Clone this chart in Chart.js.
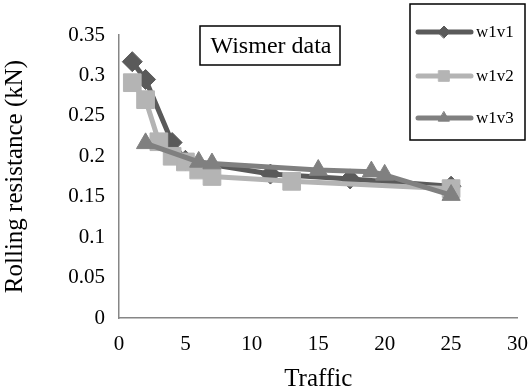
<!DOCTYPE html>
<html><head><meta charset="utf-8">
<script src="https://cdn.jsdelivr.net/npm/chart.js@4/dist/chart.umd.min.js"></script>
<style>html,body{margin:0;padding:0;background:#fff}#wrap{width:531px;height:390px}</style>
</head><body><div id="wrap"><canvas id="c" width="531" height="390"></canvas></div>
<script>
const seriesNames = ['w1v1', 'w1v2', 'w1v3'];
const w1v1X = [1, 2, 4, 5, 11.4, 17.4, 25];
const w1v1Y = [0.317, 0.295, 0.217, 0.195, 0.178, 0.172, 0.163];
const w1v2X = [1, 2, 3, 4, 5, 6, 7, 13, 25];
const w1v2Y = [0.291, 0.27, 0.218, 0.2, 0.193, 0.183, 0.175, 0.169, 0.16];
const w1v3X = [2, 6, 7, 15, 19, 20, 25];
const w1v3Y = [0.216, 0.193, 0.191, 0.183, 0.181, 0.177, 0.152];
const xTickLabels = ['0', '5', '10', '15', '20', '25', '30'];
const yTickLabels = ['0', '0.05', '0.1', '0.15', '0.2', '0.25', '0.3', '0.35'];
const annotationText = 'Wismer data';
const xTitle = 'Traffic';
const yTitle = 'Rolling resistance (kN)';

const pts = (xs, ys) => xs.map((x, i) => ({x: x, y: ys[i]}));
const FONT = '"Liberation Serif", "Times New Roman", serif';

const boxesPlugin = {
  id: 'boxes',
  afterDraw(chart) {
    const ctx = chart.ctx;
    ctx.save();
    // annotation box
    ctx.font = '24px ' + FONT;
    ctx.fillStyle = '#fff';
    ctx.strokeStyle = '#000';
    ctx.lineWidth = 1.5;
    ctx.fillRect(200, 26, 140, 39);
    ctx.strokeRect(200, 26, 140, 39);
    ctx.fillStyle = '#000';
    ctx.textBaseline = 'middle';
    ctx.textAlign = 'center';
    ctx.fillText(annotationText, 271, 47);
    // legend box
    ctx.fillStyle = '#fff';
    ctx.fillRect(410, 4, 115, 136);
    ctx.strokeRect(410, 4, 115, 136);
    const rows = [32, 76, 118];
    chart.data.datasets.forEach((ds, i) => {
      const y = rows[i];
      ctx.strokeStyle = ds.borderColor;
      ctx.lineWidth = 5;
      ctx.lineCap = 'round';
      ctx.beginPath(); ctx.moveTo(418, y); ctx.lineTo(471, y); ctx.stroke();
      ctx.fillStyle = ds.borderColor;
      ctx.strokeStyle = ds.borderColor;
      ctx.lineWidth = 1;
      Chart.helpers.drawPoint(ctx, {pointStyle: ds.pointStyle, rotation: 0, borderWidth: 1, radius: ds.pointRadius * 0.6}, 444, y);
      ctx.fillStyle = '#000';
      ctx.font = '17px ' + FONT;
      ctx.textAlign = 'left';
      ctx.fillText(ds.label, 476, y + 1);
    });
    ctx.restore();
  }
};

new Chart(document.getElementById('c'), {
  type: 'scatter',
  data: {
    datasets: [
      {label: seriesNames[0], data: pts(w1v1X, w1v1Y), showLine: true, borderColor: '#5a5a5a', backgroundColor: '#5a5a5a', borderWidth: 5, pointStyle: 'rectRot', pointRadius: 10, pointBorderWidth: 1, order: 3},
      {label: seriesNames[1], data: pts(w1v2X, w1v2Y), showLine: true, borderColor: '#b4b4b4', backgroundColor: '#b4b4b4', borderWidth: 5, pointStyle: 'rect', pointRadius: 12.5, pointBorderWidth: 1, order: 2},
      {label: seriesNames[2], data: pts(w1v3X, w1v3Y), showLine: true, borderColor: '#808080', backgroundColor: '#808080', borderWidth: 5, pointStyle: 'triangle', pointRadius: 10.5, pointBorderWidth: 1, order: 1}
    ]
  },
  options: {
    responsive: false,
    animation: false,
    layout: {padding: {top: 35, right: 13, left: 0, bottom: 0}},
    plugins: {legend: {display: false}, tooltip: {enabled: false}},
    scales: {
      x: {
        type: 'linear', min: 0, max: 30,
        grid: {display: false, drawTicks: true, tickLength: 5, tickColor: '#868686'},
        border: {color: '#868686', width: 1.5},
        ticks: {stepSize: 5, color: '#000', font: {family: FONT, size: 21}, padding: 9,
          callback: (v, i) => xTickLabels[i]},
        title: {display: true, text: xTitle, color: '#000', font: {family: FONT, size: 25}, padding: {top: 6, bottom: -4}},
        afterFit: s => { s.height = 72; s.paddingLeft = 0; s.paddingRight = 0; }
      },
      y: {
        type: 'linear', min: 0, max: 0.35,
        grid: {display: false, drawTicks: true, tickLength: 5, tickColor: '#868686'},
        border: {color: '#868686', width: 1.5},
        ticks: {stepSize: 0.05, color: '#000', font: {family: FONT, size: 21}, padding: 9,
          callback: (v, i) => yTickLabels[i]},
        title: {display: true, text: yTitle, color: '#000', font: {family: FONT, size: 25}, padding: {top: 0, bottom: 4}},
        afterFit: s => { s.width = 119; s.paddingTop = 0; s.paddingBottom = 0; }
      }
    }
  },
  plugins: [boxesPlugin]
});
</script></body></html>
